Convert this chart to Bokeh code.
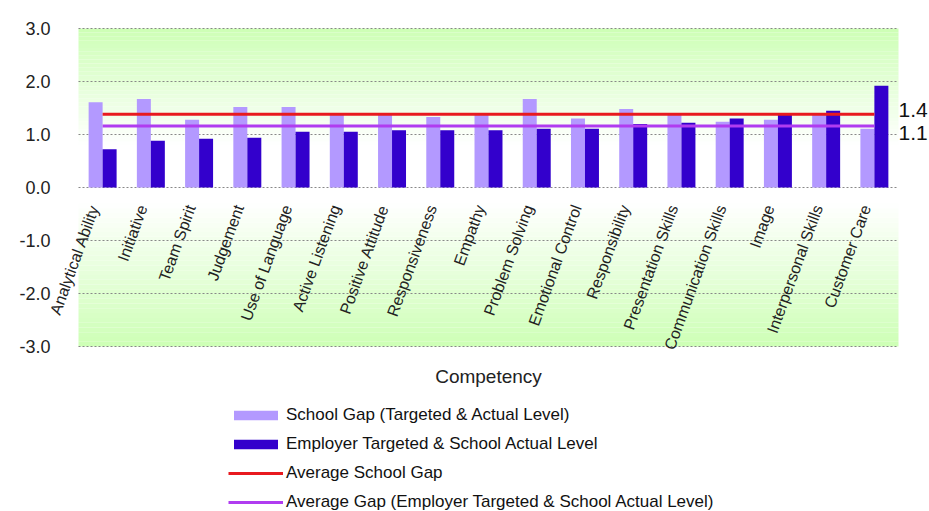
import math
from bokeh.plotting import figure
from bokeh.models import (ColumnDataSource, Range1d, FixedTicker, NumeralTickFormatter,
                          BoxAnnotation, Legend, LegendItem, LinearAxis, Label)
from bokeh.transform import dodge
from bokeh.embed import file_html
from bokeh.resources import INLINE

categories = ["Analytical Ability", "Initiative", "Team Spirit", "Judgement",
              "Use of Language", "Active Listening", "Positive Attitude",
              "Responsiveness", "Empathy", "Problem Solving", "Emotional Control",
              "Responsibility", "Presentation Skills", "Communication Skills",
              "Image", "Interpersonal Skills", "Customer Care"]
school_gap = [1.61, 1.67, 1.28, 1.52, 1.52, 1.37, 1.37, 1.33, 1.37, 1.67, 1.30,
              1.48, 1.37, 1.24, 1.28, 1.37, 1.11]
employer_gap = [0.72, 0.88, 0.92, 0.94, 1.05, 1.05, 1.08, 1.08, 1.08, 1.11, 1.11,
                1.20, 1.22, 1.30, 1.38, 1.45, 1.92]
avg_school_gap = 1.38
avg_employer_gap = 1.16
avg_labels = ["1.4", "1.1"]
y_ticks = [-3, -2, -1, 0, 1, 2, 3]
y_min, y_max = -3, 3

FONT = "Liberation Sans"
LIGHT = "#b399ff"
DARK = "#3300cc"
RED = "#e8191f"
MAG = "#b03cf0"

# layout in pixels: value area spans x 78..898 and y 28..346 of the 929x511 canvas
W, H = 929, 511
LEFT_PX, RIGHT_PX, TOP_PX, BOT_PX = 78, 898, 28, 346
N = len(categories)
ppx = (RIGHT_PX - LEFT_PX) / N
ppu = (BOT_PX - TOP_PX) / (y_max - y_min)
x_range = Range1d(-LEFT_PX / ppx, N + (W - RIGHT_PX) / ppx)
y_range = Range1d(y_min - (H - BOT_PX) / ppu, y_max + TOP_PX / ppu)

x_pos = [i + 0.5 for i in range(N)]   # centre of each category band
src = ColumnDataSource(dict(x=x_pos, cat=categories, school=school_gap,
                            employer=employer_gap))

p = figure(width=W, height=H, x_range=x_range, y_range=y_range,
           output_backend="svg", toolbar_location=None,
           min_border_left=0, min_border_right=0, min_border_top=0, min_border_bottom=0)
p.outline_line_color = None
p.background_fill_color = "white"
p.border_fill_color = "white"
p.xgrid.visible = False
p.ygrid.visible = False

# background gradient bands over the value area
def mix(t):
    g = (205, 255, 181)
    c = tuple(int(round(255 + (gv - 255) * t)) for gv in g)
    return "#%02x%02x%02x" % c

n = 30
top_hi, top_lo = y_max, 0.8
for i in range(n):
    b = top_lo + (top_hi - top_lo) * i / n
    t = top_lo + (top_hi - top_lo) * (i + 1) / n
    p.add_layout(BoxAnnotation(left=0, right=N, bottom=b, top=t, fill_color=mix((i + 0.5) / n),
                               fill_alpha=1, line_color=None, level="image"))
bot_hi, bot_lo = -0.3, y_min
for i in range(n):
    t = bot_hi - (bot_hi - bot_lo) * i / n
    b = bot_hi - (bot_hi - bot_lo) * (i + 1) / n
    p.add_layout(BoxAnnotation(left=0, right=N, bottom=b, top=t, fill_color=mix((i + 0.5) / n),
                               fill_alpha=1, line_color=None, level="image"))

# dotted gridlines across the value area
p.segment(x0=[0] * len(y_ticks), x1=[N] * len(y_ticks), y0=y_ticks, y1=y_ticks,
          line_color="#888888", line_dash="2 2", line_width=1)

r_light = p.vbar(x=dodge("x", -0.145), top="school", width=0.29,
                 source=src, fill_color=LIGHT, line_color=None)
r_dark = p.vbar(x=dodge("x", 0.145), top="employer", width=0.29,
                source=src, fill_color=DARK, line_color=None)
r_red = p.line(x=[x_pos[0], x_pos[-1]], y=[avg_school_gap, avg_school_gap],
               line_color=RED, line_width=3)
r_mag = p.line(x=[x_pos[0], x_pos[-1]], y=[avg_employer_gap, avg_employer_gap],
               line_color=MAG, line_width=3)

# y axis pinned to the left edge of the value area
ya = p.yaxis[0]
ya.fixed_location = 0
ya.ticker = FixedTicker(ticks=y_ticks)
ya.formatter = NumeralTickFormatter(format="0.0")
ya.axis_line_color = None
ya.major_tick_line_color = None
ya.major_tick_out = 0
ya.major_tick_in = 0
ya.minor_tick_line_color = None
ya.major_label_text_font = FONT
ya.major_label_text_font_size = "18px"
ya.major_label_text_color = "#222222"
ya.major_label_standoff = 28

# right axis carrying the average labels (placed a little apart so they do not overlap)
label_pos = [avg_school_gap + 0.09, avg_employer_gap - 0.13]
ra = LinearAxis(ticker=FixedTicker(ticks=label_pos), fixed_location=N,
                major_label_overrides={label_pos[0]: avg_labels[0], label_pos[1]: avg_labels[1]},
                axis_line_color=None, major_tick_line_color=None, minor_tick_line_color=None,
                major_tick_out=0, major_tick_in=0,
                major_label_standoff=0, major_label_text_font=FONT,
                major_label_text_font_size="21px", major_label_text_color="#111111")
p.add_layout(ra, "right")

# x axis sits on the zero line, category labels rotated (ends a little left of centre)
label_x = [x - 0.17 for x in x_pos]
xa = p.xaxis[0]
xa.fixed_location = 0
xa.ticker = FixedTicker(ticks=label_x)
xa.major_label_overrides = {x: c for x, c in zip(label_x, categories)}
xa.major_label_orientation = math.radians(70)
xa.major_label_text_font = FONT
xa.major_label_text_font_size = "16px"
xa.major_label_text_color = "#222222"
xa.major_label_standoff = 18
xa.major_tick_line_color = None
xa.major_tick_out = 0
xa.major_tick_in = 0
xa.minor_tick_line_color = None
xa.axis_line_color = None

# axis title below the value area
p.add_layout(Label(x=N / 2, y=y_min - 30 / ppu, text="Competency",
                   text_align="center", text_baseline="middle", text_font=FONT,
                   text_font_size="19px", text_color="#222222"))

legend_rows = 4
row_h, row_gap = 20, 9
legend_h = legend_rows * row_h + (legend_rows - 1) * row_gap
legend = Legend(items=[
    LegendItem(label="School Gap (Targeted & Actual Level)", renderers=[r_light]),
    LegendItem(label="Employer Targeted & School Actual Level", renderers=[r_dark]),
    LegendItem(label="Average School Gap", renderers=[r_red]),
    LegendItem(label="Average Gap (Employer Targeted & School Actual Level)", renderers=[r_mag]),
], location=(228, H - 405 - legend_h), orientation="vertical")
legend.border_line_color = None
legend.background_fill_alpha = 0
legend.padding = 0
legend.margin = 0
legend.spacing = row_gap
legend.glyph_width = 55
legend.glyph_height = 12
legend.label_height = row_h
legend.label_standoff = 3
legend.label_text_font = FONT
legend.label_text_font_size = "17px"
legend.label_text_color = "#111111"
p.add_layout(legend, "center")

open("out.html", "w").write(file_html(p, INLINE))
